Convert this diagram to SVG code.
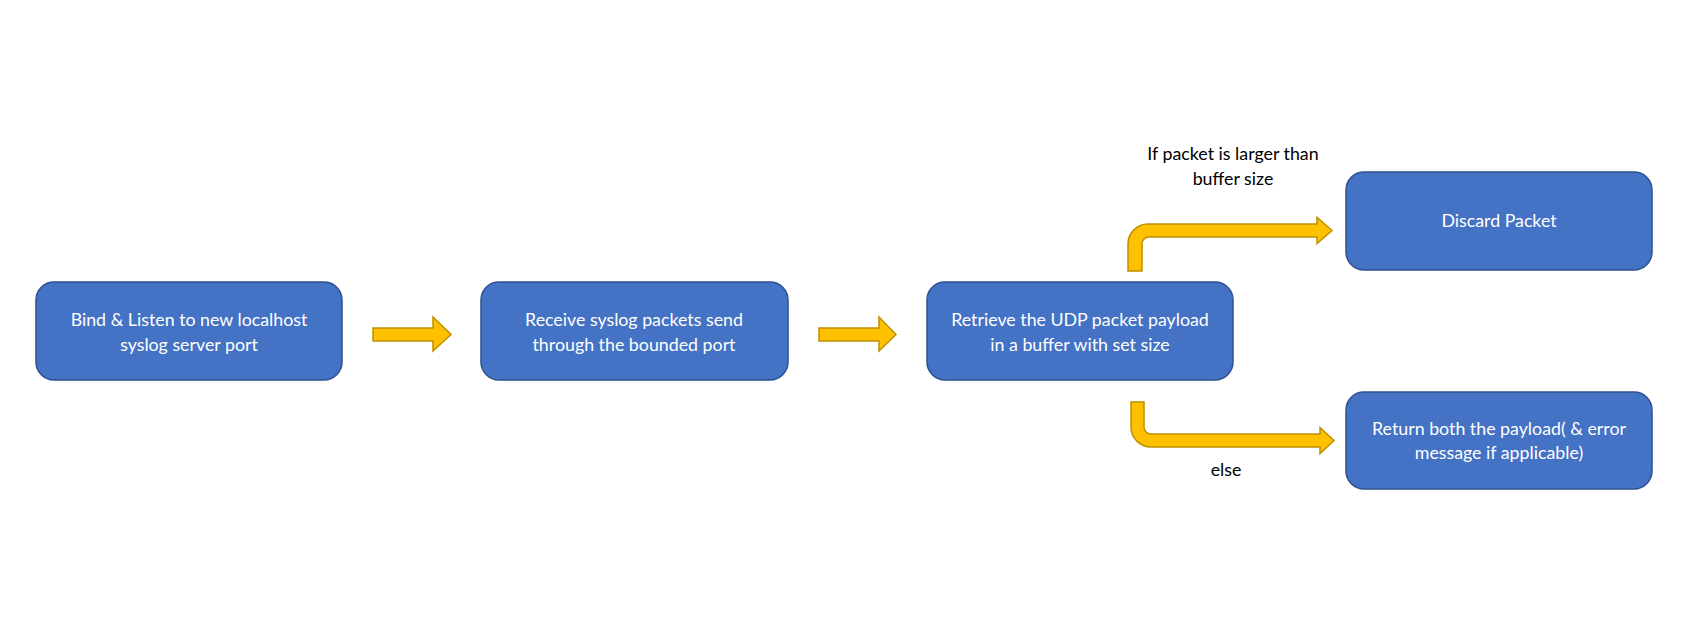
<svg xmlns="http://www.w3.org/2000/svg" width="1698" height="622" viewBox="0 0 1698 622">
<style>
.box{fill:#4472C4;stroke:#2F528F;stroke-width:1.5}
.bt{fill:#fff;font-family:Lato,"Open Sans",sans-serif;font-size:17.8px;text-anchor:middle}
.lbl{fill:#000;font-family:Lato,"Open Sans",sans-serif;font-size:17.8px;text-anchor:middle}
.arr{fill:#FFC000;stroke:#BF9000;stroke-width:1.5;stroke-linejoin:miter}
</style>
<rect width="1698" height="622" fill="#fff"/>
<g id="node-bind">
<rect class="box" x="36" y="282" width="306" height="98" rx="18"/>
<text class="bt" x="189" y="326">Bind &amp; Listen to new localhost</text>
<text class="bt" x="189" y="351">syslog server port</text>
</g>
<g id="node-receive">
<rect class="box" x="481" y="282" width="307" height="98" rx="18"/>
<text class="bt" x="634" y="326">Receive syslog packets send</text>
<text class="bt" x="634" y="351">through the bounded port</text>
</g>
<g id="node-retrieve">
<rect class="box" x="927" y="282" width="306" height="98" rx="18"/>
<text class="bt" x="1080" y="326">Retrieve the UDP packet payload</text>
<text class="bt" x="1080" y="351">in a buffer with set size</text>
</g>
<g id="node-discard">
<rect class="box" x="1346" y="172" width="306" height="98" rx="18"/>
<text class="bt" x="1499" y="227">Discard Packet</text>
</g>
<g id="node-return">
<rect class="box" x="1346" y="392" width="306" height="97" rx="18"/>
<text class="bt" x="1499" y="435">Return both the payload( &amp; error</text>
<text class="bt" x="1499" y="459">message if applicable)</text>
</g>
<g id="connectors">
<path class="arr" d="M373,328 H433 V317 L451,334.5 L433,351 V341 H373 Z"/>
<path class="arr" d="M819,328 H879 V317 L896,334.5 L879,351 V341 H819 Z"/>
<path class="arr" d="M1128,271 V244 A20,20 0 0 1 1148,224 H1317 V217.5 L1332,230.5 L1317,243.5 V237 H1149 A7,7 0 0 0 1142,244 V271 Z"/>
<path class="arr" d="M1131,402 V427 A20,20 0 0 0 1151,447 H1320 V453.5 L1334,440.5 L1320,427.5 V434 H1151 A7,7 0 0 1 1144,427 V402 Z"/>
<text class="lbl" x="1233" y="160">If packet is larger than</text>
<text class="lbl" x="1233" y="185">buffer size</text>
<text class="lbl" x="1226" y="476">else</text>
</g>
</svg>
